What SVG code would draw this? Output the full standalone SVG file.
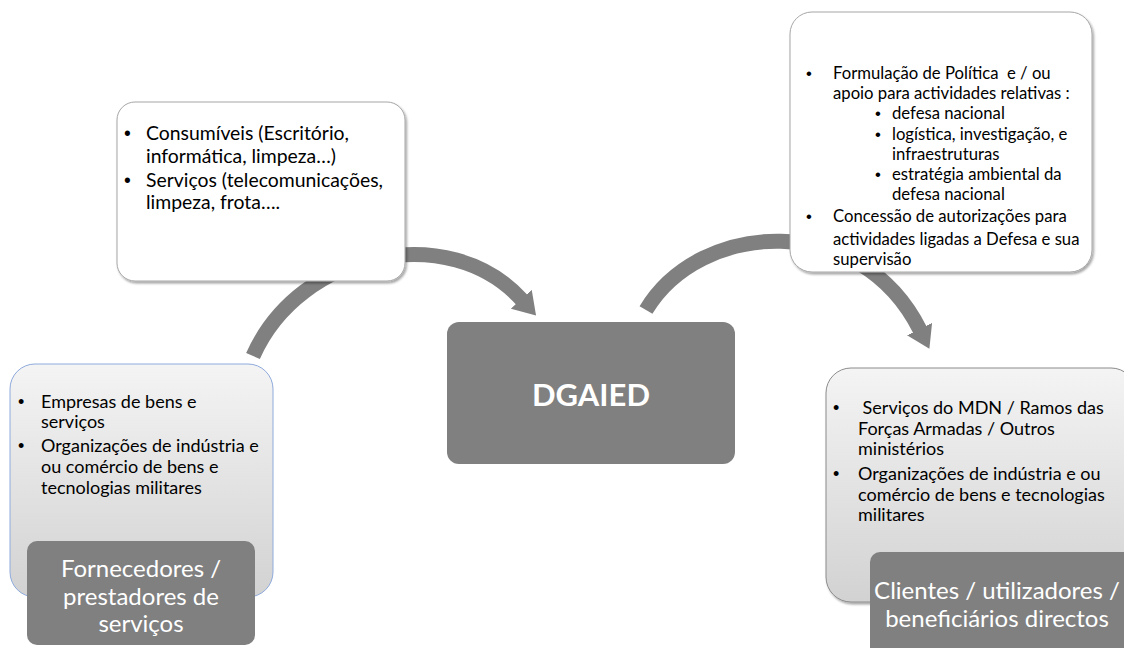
<svg xmlns="http://www.w3.org/2000/svg" width="1124" height="648" viewBox="0 0 1124 648">
<style>
.t{font-family:Lato,"Liberation Sans",sans-serif;fill:#000;white-space:pre}
.b{font-family:"Liberation Sans",sans-serif;fill:#000}
.tl{font-size:19.4px}
.tr{font-size:16.7px}
.tb{font-size:18px}
.lab{font-family:Lato,"Liberation Sans",sans-serif;fill:#fff;font-size:24px;text-anchor:middle}
.conn{fill:none;stroke:#808080;stroke-width:15}
.dark{fill:#808080}
</style>
<defs>
<marker id="ah" markerUnits="userSpaceOnUse" markerWidth="22" markerHeight="28" viewBox="0 0 22 28" refX="1" refY="14" orient="auto">
<path d="M0,0 L22,14 L0,28 z" fill="#808080"/>
</marker>
<linearGradient id="g" x1="0" y1="0" x2="0" y2="1">
<stop offset="0" stop-color="#f4f4f4"/>
<stop offset="1" stop-color="#d2d2d2"/>
</linearGradient>
<filter id="sh" x="-5%" y="-5%" width="115%" height="115%">
<feDropShadow dx="1.5" dy="2" stdDeviation="1.2" flood-color="#000" flood-opacity="0.35"/>
</filter>
</defs>
<rect width="1124" height="648" fill="#fff"/>
<g id="connectors">
<path class="conn" d="M 253 356 C 300 250, 450 220, 522 300" marker-end="url(#ah)"/>
<path class="conn" d="M 646 310 C 700 220, 860 210, 920 330" marker-end="url(#ah)"/>
</g>
<g id="inputs">
<rect x="117" y="102" width="288" height="179" rx="18" fill="#fff" stroke="#a6a6a6" stroke-width="1" filter="url(#sh)"/>
<text class="b tl" x="124" y="140">•</text>
<text class="t tl" x="146" y="140">Consumíveis (Escritório,</text>
<text class="t tl" x="146" y="163">informática, limpeza…)</text>
<text class="b tl" x="124" y="187">•</text>
<text class="t tl" x="146" y="187">Serviços (telecomunicações,</text>
<text class="t tl" x="146" y="209">limpeza, frota….</text>
</g>
<g id="outputs">
<rect x="790" y="12" width="302" height="260" rx="22" fill="#fff" stroke="#a6a6a6" stroke-width="1" filter="url(#sh)"/>
<text class="b tr" x="806" y="79">•</text>
<text class="t tr" x="833" y="79" xml:space="preserve">Formulação de Política  e / ou</text>
<text class="t tr" x="833" y="99">apoio para actividades relativas :</text>
<text class="b tr" x="875" y="119">•</text>
<text class="t tr" x="892" y="119">defesa nacional</text>
<text class="b tr" x="875" y="140">•</text>
<text class="t tr" x="892" y="140">logística, investigação, e</text>
<text class="t tr" x="892" y="160">infraestruturas</text>
<text class="b tr" x="875" y="180">•</text>
<text class="t tr" x="892" y="180">estratégia ambiental da</text>
<text class="t tr" x="892" y="200">defesa nacional</text>
<text class="b tr" x="806" y="222">•</text>
<text class="t tr" x="833" y="222">Concessão de autorizações para</text>
<text class="t tr" x="833" y="245">actividades ligadas a Defesa e sua</text>
<text class="t tr" x="833" y="265">supervisão</text>
</g>
<g id="dgaied">
<rect x="447" y="322" width="288" height="142" rx="12" class="dark"/>
<text x="591" y="406" text-anchor="middle" style="font-family:Lato,'Liberation Sans',sans-serif;font-weight:bold;font-size:31px;fill:#fff">DGAIED</text>
</g>
<g id="fornecedores">
<rect x="10" y="364" width="263" height="233" rx="25" fill="url(#g)" stroke="#8eaadb" stroke-width="1"/>
<text class="b tb" x="18" y="408">•</text>
<text class="t tb" x="41" y="408">Empresas de bens e</text>
<text class="t tb" x="41" y="428">serviços</text>
<text class="b tb" x="18" y="452">•</text>
<text class="t tb" x="41" y="452">Organizações de indústria e</text>
<text class="t tb" x="41" y="473">ou comércio de bens e</text>
<text class="t tb" x="41" y="494">tecnologias militares</text>
<rect x="27" y="541" width="228" height="104" rx="10" class="dark"/>
<text class="lab" x="141" y="577">Fornecedores /</text>
<text class="lab" x="141" y="605">prestadores de</text>
<text class="lab" x="141" y="632">serviços</text>
</g>
<g id="clientes">
<rect x="826" y="368" width="310" height="234" rx="25" fill="url(#g)" stroke="#8c8c8c" stroke-width="1" filter="url(#sh)"/>
<text class="b tb" x="833" y="414">•</text>
<text class="t tb" x="858" y="414" xml:space="preserve"> Serviços do MDN / Ramos das</text>
<text class="t tb" x="858" y="435">Forças Armadas / Outros</text>
<text class="t tb" x="858" y="455">ministérios</text>
<text class="b tb" x="833" y="480">•</text>
<text class="t tb" x="858" y="480">Organizações de indústria e ou</text>
<text class="t tb" x="858" y="501">comércio de bens e tecnologias</text>
<text class="t tb" x="858" y="521">militares</text>
<rect x="870" y="552" width="270" height="110" rx="10" class="dark"/>
<text class="lab" x="997" y="599">Clientes / utilizadores /</text>
<text class="lab" x="997" y="627">beneficiários directos</text>
</g>
</svg>
